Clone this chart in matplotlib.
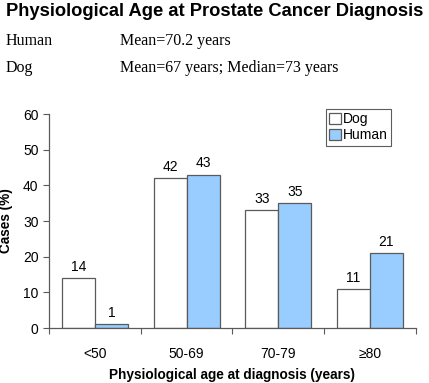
import numpy as np
import matplotlib.pyplot as plt

CATEGORIES = ['<50', '50-69', '70-79', '≥80']
DOG = [14, 42, 33, 11]
HUMAN = [1, 43, 35, 21]

SANS = ['Liberation Sans', 'DejaVu Sans']
SERIF = ['Liberation Serif', 'DejaVu Serif']

fig = plt.figure(figsize=(4.29, 3.83), dpi=100)
ax = fig.add_axes([0.1142, 0.1436, 0.855, 0.5587])

x = np.arange(len(CATEGORIES))
width = 0.36
edge = '#5a5a5a'

rec_dog = ax.bar(x - width / 2, DOG, width, color='white', edgecolor=edge, linewidth=0.9, label='Dog')
rec_hum = ax.bar(x + width / 2, HUMAN, width, color='#99ccff', edgecolor=edge, linewidth=0.9, label='Human')

for rects, vals in ((rec_dog, DOG), (rec_hum, HUMAN)):
    for r, v in zip(rects, vals):
        ax.annotate(str(v), (r.get_x() + r.get_width() / 2, v), xytext=(0, 3),
                    textcoords='offset points', ha='center', va='bottom',
                    fontsize=10, family=SANS)

ax.set_xlim(-0.5, len(CATEGORIES) - 0.5)
ax.set_ylim(0, 60)
ax.set_yticks(range(0, 61, 10))
ax.set_xticks(np.arange(-0.5, len(CATEGORIES), 1.0))
ax.set_xticklabels([])
ax.set_xticks(x, minor=True)
ax.set_xticklabels(CATEGORIES, minor=True, fontsize=10, family=SANS)
ax.tick_params(axis='x', which='minor', length=0, pad=14)
ax.tick_params(axis='x', which='major', length=4, color=edge)
ax.tick_params(axis='y', length=4, color=edge, labelsize=10)
for lbl in ax.get_yticklabels():
    lbl.set_family(SANS)

for s in ('top', 'right'):
    ax.spines[s].set_visible(False)
for s in ('left', 'bottom'):
    ax.spines[s].set_color(edge)
    ax.spines[s].set_linewidth(0.9)

ax.set_ylabel('Cases (%)', fontsize=9.8, fontweight='bold', family=SANS, labelpad=7)
ax.set_xlabel('Physiological age at diagnosis (years)', fontsize=9.8, fontweight='bold',
              family=SANS, labelpad=5)

leg = ax.legend(loc='upper left', bbox_to_anchor=(0.755, 1.025),
                prop={'family': SANS, 'size': 10}, frameon=True, fancybox=False,
                handlelength=0.8, handleheight=0.8, handletextpad=0.15,
                borderpad=0.25, labelspacing=0.15, borderaxespad=0)
leg.get_frame().set_edgecolor('#333333')
leg.get_frame().set_linewidth(0.8)

fig.text(0.015, 0.992, 'Physiological Age at Prostate Cancer Diagnosis', fontsize=13.2,
         fontweight='bold', family=SANS, va='top', ha='left')
fig.text(0.012, 0.893, 'Human', fontsize=11.5, family=SERIF, va='center')
fig.text(0.28, 0.893, 'Mean=70.2 years', fontsize=11.5, family=SERIF, va='center')
fig.text(0.012, 0.822, 'Dog', fontsize=11.5, family=SERIF, va='center')
fig.text(0.28, 0.822, 'Mean=67 years; Median=73 years', fontsize=11.5, family=SERIF, va='center')

fig.savefig('out.png', dpi=100)
